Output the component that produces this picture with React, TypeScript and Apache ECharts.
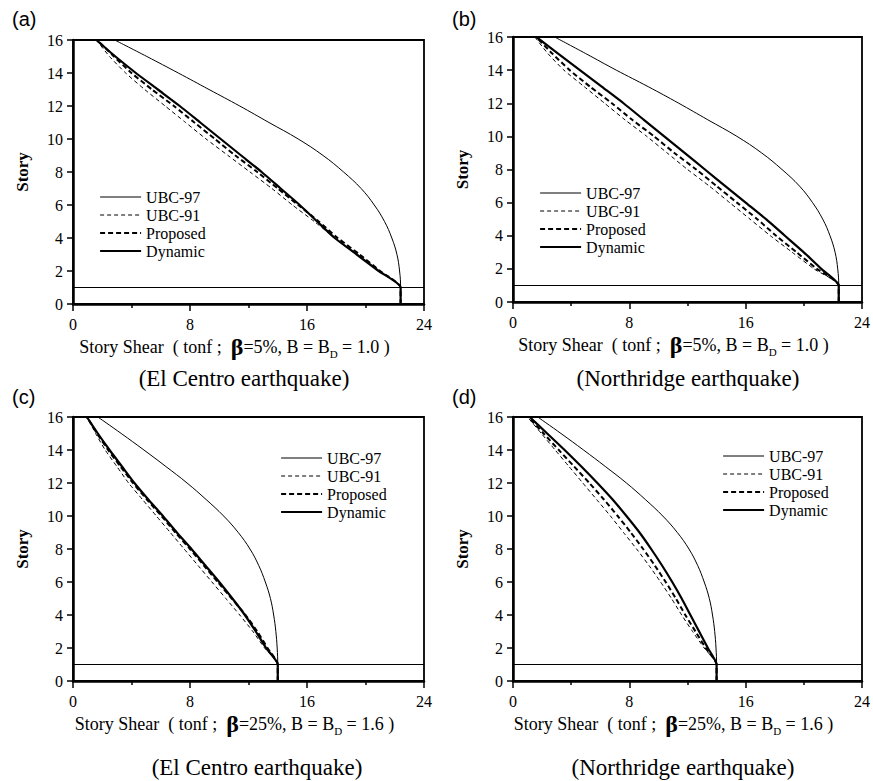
import React, { useEffect, useRef } from "react";
import * as echarts from "echarts";

// Story levels (y values), from ground (0) to roof (16)
const STORIES = [0, 1, 2, 3, 4, 5, 6, 7, 8, 9, 10, 11, 12, 13, 14, 15, 16];
const BASE_STORY = 1;

// Story shear (tonf) per story, index matches STORIES
// (a) El Centro, beta = 5%
const A_UBC97 = [22.4, 22.4, 22.33, 22.15, 21.8, 21.3, 20.6, 19.7, 18.5, 17.1, 15.4, 13.4, 11.4, 9.3, 7.2, 5.05, 2.85];
const A_UBC91 = [22.4, 22.4, 20.9, 19.4, 17.9, 16.5, 15.0, 13.6, 12.1, 10.6, 9.1, 7.7, 6.3, 4.9, 3.6, 2.5, 1.6];
const A_PROPOSED = [22.4, 22.4, 21.0, 19.6, 18.1, 16.8, 15.4, 14.0, 12.6, 11.1, 9.7, 8.3, 6.9, 5.4, 4.0, 2.8, 1.65];
const A_DYNAMIC = [22.4, 22.4, 20.9, 19.4, 17.9, 16.7, 15.5, 14.2, 12.9, 11.5, 10.1, 8.7, 7.3, 5.8, 4.3, 2.9, 1.6];
// (b) Northridge, beta = 5%
const B_UBC97 = [22.4, 22.4, 22.33, 22.15, 21.8, 21.3, 20.6, 19.7, 18.5, 17.1, 15.4, 13.4, 11.4, 9.3, 7.1, 5.0, 2.86];
const B_UBC91 = [22.4, 22.4, 20.7, 19.2, 17.7, 16.3, 14.9, 13.5, 12.0, 10.6, 9.2, 7.7, 6.3, 4.9, 3.5, 2.4, 1.5];
const B_PROPOSED = [22.4, 22.4, 20.9, 19.5, 18.1, 16.8, 15.4, 14.0, 12.6, 11.1, 9.7, 8.2, 6.8, 5.3, 3.9, 2.7, 1.6];
const B_DYNAMIC = [22.4, 22.4, 21.2, 20.0, 18.7, 17.4, 16.0, 14.6, 13.2, 11.8, 10.4, 9.0, 7.6, 6.1, 4.6, 3.1, 1.6];
// (c) El Centro, beta = 25%
const C_UBC97 = [14.0, 14.0, 13.96, 13.87, 13.72, 13.5, 13.15, 12.7, 12.1, 11.3, 10.3, 9.1, 7.8, 6.35, 4.85, 3.3, 1.7];
const C_UBC91 = [14.0, 14.0, 13.1, 12.3, 11.4, 10.45, 9.5, 8.55, 7.6, 6.65, 5.7, 4.75, 3.8, 3.0, 2.2, 1.55, 0.95];
const C_PROPOSED = [14.0, 14.0, 13.3, 12.6, 11.8, 10.85, 9.9, 8.95, 8.0, 7.0, 6.05, 5.05, 4.1, 3.25, 2.4, 1.65, 0.95];
const C_DYNAMIC = [14.0, 14.0, 13.2, 12.5, 11.75, 10.9, 10.0, 9.05, 8.1, 7.1, 6.15, 5.15, 4.2, 3.35, 2.5, 1.7, 0.95];
// (d) Northridge, beta = 25%
const D_UBC97 = [14.0, 14.0, 13.96, 13.87, 13.72, 13.5, 13.15, 12.7, 12.1, 11.3, 10.3, 9.1, 7.8, 6.35, 4.85, 3.3, 1.7];
const D_UBC91 = [14.0, 14.0, 13.15, 12.35, 11.6, 10.9, 10.15, 9.35, 8.5, 7.6, 6.7, 5.75, 4.8, 3.85, 2.9, 1.95, 1.0];
const D_PROPOSED = [14.0, 14.0, 13.25, 12.55, 11.85, 11.2, 10.5, 9.75, 8.95, 8.1, 7.2, 6.25, 5.25, 4.2, 3.15, 2.1, 1.05];
const D_DYNAMIC = [14.0, 14.0, 13.4, 12.8, 12.2, 11.6, 10.95, 10.25, 9.5, 8.7, 7.8, 6.85, 5.8, 4.7, 3.55, 2.35, 1.15];

const SERIES_NAMES = ["UBC-97", "UBC-91", "Proposed", "Dynamic"];
const X_TICKS = [0, 8, 16, 24];
const PANEL_LABELS = ["(a)", "(b)", "(c)", "(d)"];
const EARTHQUAKES = ["(El Centro earthquake)", "(Northridge earthquake)", "(El Centro earthquake)", "(Northridge earthquake)"];
const BETAS = ["5%", "5%", "25%", "25%"];
const B_VALUES = ["1.0", "1.0", "1.6", "1.6"];
const PANEL_DATA = [
  [A_UBC97, A_UBC91, A_PROPOSED, A_DYNAMIC],
  [B_UBC97, B_UBC91, B_PROPOSED, B_DYNAMIC],
  [C_UBC97, C_UBC91, C_PROPOSED, C_DYNAMIC],
  [D_UBC97, D_UBC91, D_PROPOSED, D_DYNAMIC],
];

// layout (pixels)
const LAYOUT = [
  { left: 73, top: 40, width: 351, height: 264, legendLeft: 99, legendTop: 189, subX: 244, subY: 378, labX: 12, labY: 19 },
  { left: 513, top: 37, width: 350, height: 265, legendLeft: 539, legendTop: 185, subX: 688, subY: 378, labX: 452, labY: 19 },
  { left: 73, top: 417, width: 351, height: 264, legendLeft: 280, legendTop: 450, subX: 257, subY: 767, labX: 12, labY: 397 },
  { left: 513, top: 417, width: 350, height: 264, legendLeft: 722, legendTop: 448, subX: 683, subY: 767, labX: 452, labY: 397 },
];

const SERIF = "Liberation Serif";
const SANS = "Liberation Sans";

const LINE_STYLES = [
  { color: "#000", width: 1, type: "solid" },
  { color: "#000", width: 1, type: [4, 3] },
  { color: "#000", width: 2, type: [5, 3] },
  { color: "#000", width: 2.2, type: "solid" },
];

export default function App() {
  const ref = useRef<HTMLDivElement>(null);
  useEffect(() => {
    document.body.style.margin = "0";
    if (!ref.current) return;
    const chart = echarts.init(ref.current, null, { renderer: "svg" });

    const grids: any[] = [];
    const xAxes: any[] = [];
    const yAxes: any[] = [];
    const legends: any[] = [];
    const series: any[] = [];
    const graphics: any[] = [];

    LAYOUT.forEach((L, p) => {
      grids.push({
        left: L.left, top: L.top, width: L.width, height: L.height,
        show: true, borderColor: "#000", borderWidth: 1.8, backgroundColor: "transparent",
      });
      xAxes.push({
        gridIndex: p, type: "value", min: X_TICKS[0], max: X_TICKS[X_TICKS.length - 1], interval: X_TICKS[1] - X_TICKS[0],
        axisLine: { show: true, onZero: false, lineStyle: { color: "#000", width: 2.5 } },
        axisTick: { show: true, length: 7, lineStyle: { color: "#000", width: 1.5 } },
        minorTick: { show: true, splitNumber: 2, length: 4, lineStyle: { color: "#000", width: 1.5 } },
        splitLine: { show: false },
        axisLabel: { color: "#000", fontFamily: SERIF, fontSize: 16, margin: 12 },
        name: `{t|Story Shear  ( tonf ;  }{b|β}{t|=${BETAS[p]}, B = B}{s|D}{t| = ${B_VALUES[p]} )}`,
        nameLocation: "middle",
        nameGap: 31,
        nameTextStyle: {
          color: "#000",
          fontFamily: SERIF,
          padding: [0, 28, 0, 0],
          rich: {
            t: { fontFamily: SERIF, fontSize: 18, color: "#000" },
            b: { fontFamily: SERIF, fontSize: 24, fontWeight: "bold", color: "#000" },
            s: { fontFamily: SERIF, fontSize: 11, color: "#000", verticalAlign: "bottom", lineHeight: 12 },
          },
        },
      });
      yAxes.push({
        gridIndex: p, type: "value", min: 0, max: 16, interval: 2,
        axisLine: { show: true, onZero: false, lineStyle: { color: "#000", width: 2.5 } },
        axisTick: { show: true, length: 6, lineStyle: { color: "#000", width: 1.5 } },
        splitLine: { show: false },
        axisLabel: { color: "#000", fontFamily: SERIF, fontSize: 16, margin: 10 },
        name: "Story",
        nameLocation: "middle",
        nameRotate: 90,
        nameGap: 42,
        nameTextStyle: { color: "#000", fontFamily: SERIF, fontSize: 17, fontWeight: "bold" },
      });
      legends.push({
        orient: "vertical", left: L.legendLeft, top: L.legendTop, padding: 0,
        itemWidth: 41, itemHeight: 10, itemGap: 2, selectedMode: false,
        itemStyle: { opacity: 0 },
        textStyle: { color: "#000", fontFamily: SERIF, fontSize: 16 },
        data: SERIES_NAMES.map((name, k) => ({
          name,
          itemStyle: { opacity: 0 },
          lineStyle: { color: "#000", width: LINE_STYLES[k].width, type: LINE_STYLES[k].type },
        })),
      });
      SERIES_NAMES.forEach((name, k) => {
        const vals = PANEL_DATA[p][k];
        const s: any = {
          name, type: "line", xAxisIndex: p, yAxisIndex: p,
          data: STORIES.map((st, i) => [vals[i], st]),
          symbol: "none", showSymbol: false,
          smooth: k === 0 ? 0.4 : 0.2,
          lineStyle: LINE_STYLES[k],
          itemStyle: { color: "#000" },
          z: 2 + k,
          silent: true,
        };
        if (k === 3) {
          s.markLine = {
            silent: true, symbol: ["none", "none"], label: { show: false },
            lineStyle: { color: "#000", width: 1, type: "solid" },
            data: [{ yAxis: BASE_STORY }],
          };
        }
        series.push(s);
      });
      graphics.push({
        type: "text", x: L.labX, y: L.labY,
        style: { text: PANEL_LABELS[p], font: `20px "${SANS}"`, fill: "#000", textAlign: "left", textVerticalAlign: "middle" },
      });
      graphics.push({
        type: "text", x: L.subX, y: L.subY,
        style: { text: EARTHQUAKES[p], font: `23px "${SERIF}"`, fill: "#000", textAlign: "center", textVerticalAlign: "middle" },
      });
    });

    chart.setOption({
      animation: false,
      backgroundColor: "#fff",
      grid: grids,
      xAxis: xAxes,
      yAxis: yAxes,
      legend: legends,
      series,
      graphic: graphics,
    });
    return () => chart.dispose();
  }, []);
  return <div ref={ref} style={{ width: 873, height: 781 }} />;
}
